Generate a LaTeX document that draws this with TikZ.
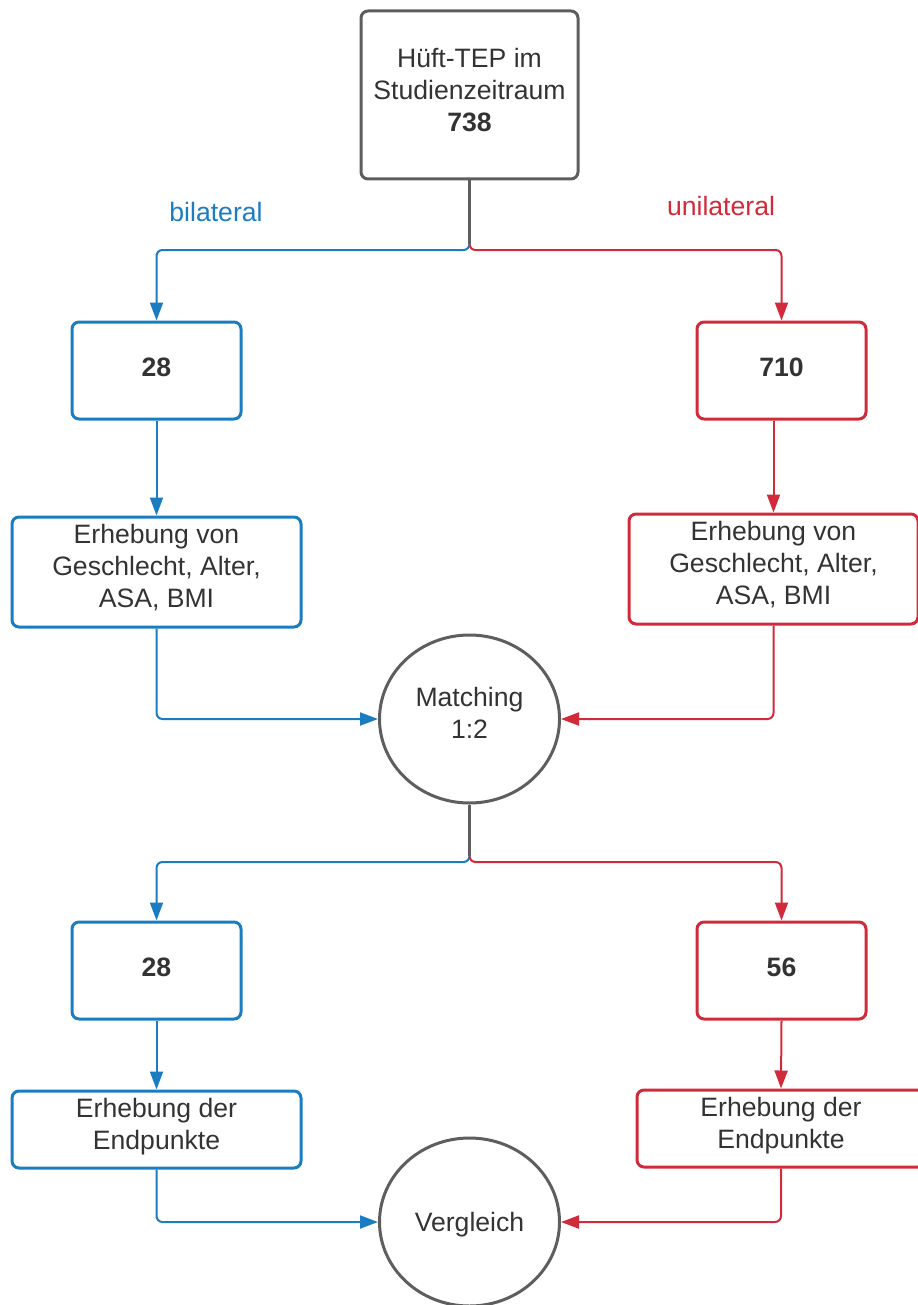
\documentclass[tikz,border=0pt]{standalone}
\usepackage{fontspec}
\setmainfont{Liberation Sans}
\usepackage{xcolor}
\usetikzlibrary{arrows.meta,positioning,shapes.geometric}

\definecolor{lineGray}{HTML}{5E5E5E}
\definecolor{textGray}{HTML}{333333}
\definecolor{biBlue}{HTML}{1A7DC1}
\definecolor{uniRed}{HTML}{D12B3B}

\begin{document}
\begin{tikzpicture}[
  x=0.5pt, y=-0.5pt,
  font=\fontsize{13.3}{16}\selectfont,
  text=textGray,
  >={Triangle[length=9pt,width=6.5pt]},
  box/.style={
    draw=#1,
    rounded corners=3.5pt,
    line width=1.5pt,
    align=center,
    inner sep=3pt
  },
  box/.default=lineGray,
  numbox/.style={box=#1, minimum width=84.5pt, minimum height=48.5pt, text depth=3pt,
    font=\fontsize{13.3}{16}\selectfont\bfseries},
  infobox/.style={box=#1, minimum width=144.5pt, text depth=6pt},
  roundnode/.style={
    draw=lineGray,
    ellipse,
    line width=1.5pt,
    minimum width=90pt,
    minimum height=84pt,
    align=center,
    inner sep=0pt
  },
  link/.style={line width=1pt, draw=#1, rounded corners=3pt},
  trunk/.style={line width=1.5pt, draw=lineGray}
]
\useasboundingbox (0,0) rectangle (917,1305);

% ===== Start =====
\node[box, minimum width=108.5pt, minimum height=84pt, text depth=5pt] (start) at (469.5,95)
  {Hüft-TEP im\\Studienzeitraum\\\textbf{738}};

\coordinate (split1) at (469.5,250);
\coordinate (split2) at (469.5,862);

% ===== First group row =====
\node[numbox=biBlue] (bi1)  at (156.5,370.5) {28};
\node[numbox=uniRed] (uni1) at (781.5,370.5) {710};

\node[infobox=biBlue, minimum height=55pt, below=47.5pt of bi1] (biData)
  {Erhebung von\\Geschlecht, Alter,\\ASA, BMI};
\node[infobox=uniRed, minimum height=55pt] (uniData) at (773.5,569)
  {Erhebung von\\Geschlecht, Alter,\\ASA, BMI};

\node[roundnode, text depth=6pt] (match) at (469.5,719) {Matching\\1:2};

% ===== Second group row =====
\node[numbox=biBlue] (bi2)  at (156.5,970.5) {28};
\node[numbox=uniRed] (uni2) at (781.5,970.5) {56};

\node[infobox=biBlue, minimum height=38.5pt, below=34.5pt of bi2] (biEnd)
  {Erhebung der\\Endpunkte};
\node[infobox=uniRed, minimum height=38.5pt, minimum width=144pt] (uniEnd) at (781,1128.5)
  {Erhebung der\\Endpunkte};

\node[roundnode, text depth=0pt] (compare) at (469.5,1222) {Vergleich};

% ===== Labels =====
\node[text=biBlue]  (lblBi)  at (216,212) {bilateral};
\node[text=uniRed]  (lblUni) at (721,206) {unilateral};

% ===== Connectors =====
\draw[link=biBlue, ->] ([yshift=4pt]split1) -- (split1) -| (bi1.north);
\draw[link=uniRed, ->] ([yshift=4pt]split1) -- (split1) -| (uni1.north);
\draw[trunk] (start.south) -- ([yshift=3pt]split1);

\draw[link=biBlue, ->] (bi1.south) -- (biData.north);
\draw[link=uniRed, ->] (uni1.south -| uniData.north) -- (uniData.north);

\draw[link=biBlue, ->] (biData.south) |- (match.west);
\draw[link=uniRed, ->] (uniData.south) |- (match.east);

\draw[link=biBlue, ->] ([yshift=4pt]split2) -- (split2) -| (bi2.north);
\draw[link=uniRed, ->] ([yshift=4pt]split2) -- (split2) -| (uni2.north);
\draw[trunk] (match.south) -- ([yshift=3pt]split2);

\draw[link=biBlue, ->] (bi2.south) -- (biEnd.north);
\draw[link=uniRed, ->] (uni2.south) -- (uniEnd.north);

\draw[link=biBlue, ->] (biEnd.south) |- (compare.west);
\draw[link=uniRed, ->] (uniEnd.south) |- (compare.east);

\end{tikzpicture}
\end{document}
